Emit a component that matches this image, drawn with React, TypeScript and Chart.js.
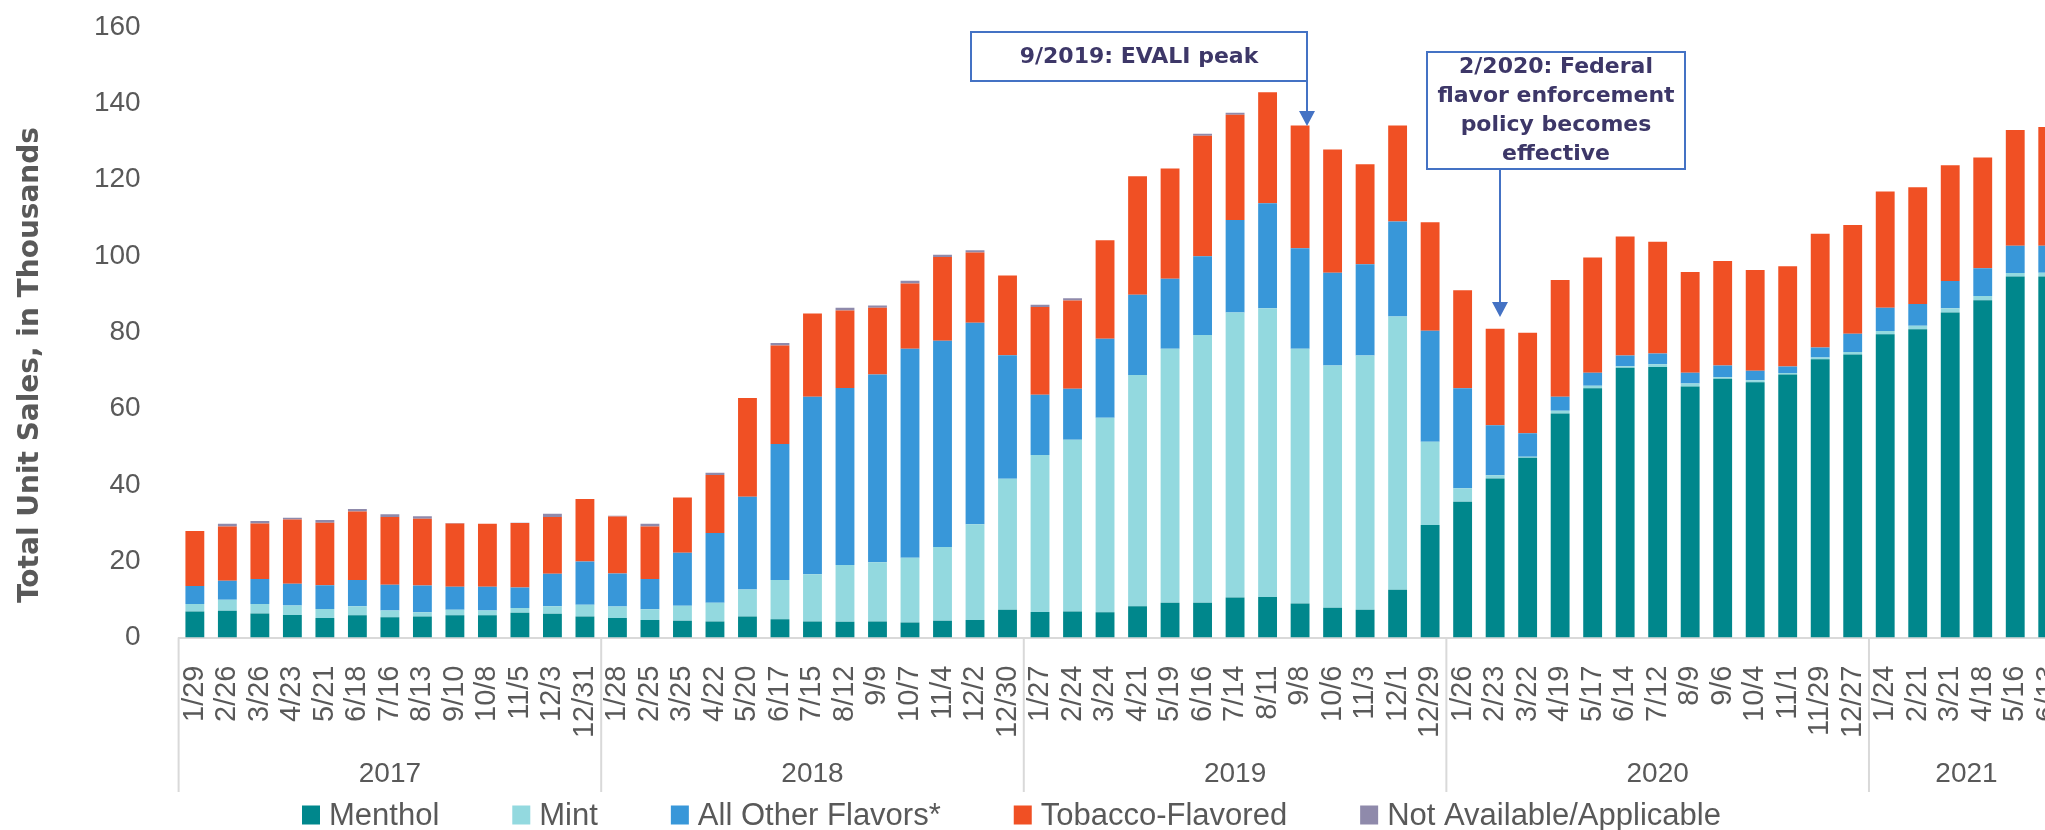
import React, { useEffect, useRef } from 'react';
import { Chart, registerables } from 'chart.js';

Chart.register(...registerables);

// ---------------- DATA ----------------
const categories = [
  '1/29', '2/26', '3/26', '4/23', '5/21', '6/18', '7/16', '8/13', '9/10', '10/8', '11/5', '12/3', '12/31',
  '1/28', '2/25', '3/25', '4/22', '5/20', '6/17', '7/15', '8/12', '9/9', '10/7', '11/4', '12/2', '12/30',
  '1/27', '2/24', '3/24', '4/21', '5/19', '6/16', '7/14', '8/11', '9/8', '10/6', '11/3', '12/1', '12/29',
  '1/26', '2/23', '3/22', '4/19', '5/17', '6/14', '7/12', '8/9', '9/6', '10/4', '11/1', '11/29', '12/27',
  '1/24', '2/21', '3/21', '4/18', '5/16', '6/13',
];

const years = ['2017', '2018', '2019', '2020', '2021'];
const yearCounts = [13, 13, 13, 13, 6];

const menthol = [
  6.8, 7.0, 6.3, 5.9, 5.1, 5.8, 5.3, 5.5, 5.8, 5.8, 6.5, 6.2, 5.5,
  5.1, 4.6, 4.4, 4.2, 5.5, 4.8, 4.2, 4.1, 4.2, 3.9, 4.4, 4.6, 7.3,
  6.7, 6.8, 6.6, 8.2, 9.1, 9.1, 10.5, 10.6, 8.9, 7.8, 7.3, 12.5, 29.5,
  35.6, 41.7, 47.1, 58.7, 65.3, 70.7, 70.9, 65.8, 67.8, 66.9, 68.9, 72.9, 74.2,
  79.5, 80.8, 85.2, 88.4, 94.6, 94.6,
];

const mint = [
  2.0, 2.9, 2.5, 2.5, 2.4, 2.4, 1.8, 1.1, 1.5, 1.3, 1.2, 2.0, 3.1,
  3.0, 2.8, 3.9, 4.9, 7.1, 10.3, 12.4, 14.9, 15.5, 17.0, 19.3, 25.1, 34.3,
  41.1, 45.0, 51.0, 60.6, 66.6, 70.2, 74.7, 75.7, 66.8, 63.5, 66.6, 71.6, 21.8,
  3.5, 0.8, 0.3, 0.7, 0.7, 0.4, 0.7, 0.8, 0.4, 0.5, 0.4, 0.5, 0.6,
  0.8, 0.9, 1.1, 1.1, 0.9, 1.0,
];

const otherFlavors = [
  4.7, 5.0, 6.5, 5.7, 6.2, 6.9, 6.7, 7.0, 6.0, 6.2, 5.4, 8.5, 11.3,
  8.7, 7.9, 13.9, 18.3, 24.3, 35.6, 46.5, 46.4, 49.2, 54.8, 54.1, 52.8, 32.4,
  15.8, 13.4, 20.7, 21.0, 18.3, 20.6, 24.2, 27.5, 26.3, 24.3, 23.9, 24.9, 29.1,
  26.2, 13.1, 6.1, 3.7, 3.4, 2.8, 2.8, 2.8, 3.1, 2.5, 1.7, 2.6, 4.8,
  6.1, 5.7, 7.1, 7.3, 7.2, 7.1,
];

const tobacco = [
  14.4, 14.2, 14.6, 16.8, 16.4, 17.9, 17.8, 17.5, 16.6, 16.5, 16.9, 14.9, 16.4,
  14.9, 13.8, 14.5, 15.2, 25.9, 25.8, 21.8, 20.3, 17.5, 17.1, 21.9, 18.4, 20.9,
  23.0, 23.1, 25.8, 31.1, 28.9, 31.6, 27.6, 29.1, 32.2, 32.3, 26.2, 25.2, 28.4,
  25.7, 25.3, 26.4, 30.6, 30.2, 31.2, 29.3, 26.4, 27.4, 26.4, 26.3, 29.8, 28.5,
  30.5, 30.6, 30.4, 29.0, 30.3, 31.1,
];

const notAvailable = [
  0, 0.7, 0.6, 0.5, 0.7, 0.7, 0.7, 0.7, 0.1, 0, 0.1, 0.8, 0,
  0.2, 0.7, 0, 0.6, 0, 0.7, 0, 0.7, 0.6, 0.7, 0.6, 0.6, 0,
  0.6, 0.6, 0, 0, 0, 0.5, 0.5, 0, 0, 0, 0, 0, 0,
  0, 0, 0, 0, 0, 0, 0, 0, 0, 0, 0, 0, 0,
  0, 0, 0, 0, 0, 0,
];

const yMin = 0;
const yMax = 160;
const yStep = 20;

const yTitle = 'Total Unit Sales, in Thousands';
const note1 = ['9/2019: EVALI peak'];
const note2 = ['2/2020: Federal', 'flavor enforcement', 'policy becomes', 'effective'];

// ---------------- STYLE ----------------
const FONT = "'Liberation Sans', Arial, sans-serif";
const BOLD_FONT = "'DejaVu Sans', Verdana, sans-serif";
const TEXT = '#595959';
const NOTE_TEXT = '#3D3768';
const NOTE_LINE = '#4472C4';
const AXIS = '#D9D9D9';

const seriesDefs = [
  { label: 'Menthol', data: menthol, color: '#00878C' },
  { label: 'Mint', data: mint, color: '#93D9DF' },
  { label: 'All Other Flavors*', data: otherFlavors, color: '#3897D9' },
  { label: 'Tobacco-Flavored', data: tobacco, color: '#F05024' },
  { label: 'Not Available/Applicable', data: notAvailable, color: '#8F8AAB' },
];

const overlayPlugin = {
  id: 'overlay',
  afterDraw(chart: any) {
    const { ctx, chartArea } = chart;
    const xs = chart.scales.x;
    const step = xs.getPixelForValue(1) - xs.getPixelForValue(0);
    ctx.save();

    // year group separators and labels
    const bounds = [0];
    let acc = 0;
    yearCounts.forEach((c) => { acc += c; bounds.push(acc); });
    ctx.strokeStyle = AXIS;
    ctx.lineWidth = 2;
    bounds.forEach((b) => {
      const px = xs.getPixelForValue(b) - step / 2;
      ctx.beginPath();
      ctx.moveTo(px, chartArea.bottom);
      ctx.lineTo(px, 792);
      ctx.stroke();
    });
    ctx.fillStyle = TEXT;
    ctx.font = `28px ${FONT}`;
    ctx.textAlign = 'center';
    ctx.textBaseline = 'middle';
    years.forEach((yr, i) => {
      const a = xs.getPixelForValue(bounds[i]) - step / 2;
      const b = xs.getPixelForValue(bounds[i + 1]) - step / 2;
      ctx.fillText(yr, (a + b) / 2, 774);
    });

    // y axis title
    ctx.save();
    ctx.translate(31, 365);
    ctx.rotate(-Math.PI / 2);
    ctx.font = `bold 28px ${BOLD_FONT}`;
    ctx.fillStyle = TEXT;
    ctx.textAlign = 'center';
    ctx.textBaseline = 'middle';
    ctx.fillText(yTitle, 0, 0);
    ctx.restore();

    // legend
    ctx.font = `31px ${FONT}`;
    ctx.textAlign = 'left';
    ctx.textBaseline = 'middle';
    let lx = 302;
    const ly = 815;
    chart.data.datasets.forEach((ds: any) => {
      ctx.fillStyle = ds.backgroundColor;
      ctx.fillRect(lx, ly - 9.5, 18, 19);
      ctx.fillStyle = TEXT;
      ctx.fillText(ds.label, lx + 27, ly + 1);
      lx += 27 + ctx.measureText(ds.label).width + 73;
    });

    // annotations
    const drawBox = (x0: number, y0: number, x1: number, y1: number) => {
      ctx.fillStyle = '#FFFFFF';
      ctx.fillRect(x0, y0, x1 - x0, y1 - y0);
      ctx.strokeStyle = NOTE_LINE;
      ctx.lineWidth = 2;
      ctx.strokeRect(x0, y0, x1 - x0, y1 - y0);
    };
    const drawArrow = (x: number, y0: number, yTip: number) => {
      ctx.strokeStyle = NOTE_LINE;
      ctx.lineWidth = 2;
      ctx.beginPath();
      ctx.moveTo(x, y0);
      ctx.lineTo(x, yTip - 14);
      ctx.stroke();
      ctx.fillStyle = NOTE_LINE;
      ctx.beginPath();
      ctx.moveTo(x - 8, yTip - 15);
      ctx.lineTo(x + 8, yTip - 15);
      ctx.lineTo(x, yTip);
      ctx.closePath();
      ctx.fill();
    };

    drawBox(971, 32, 1307, 81);
    drawArrow(1307, 81, 126);
    ctx.fillStyle = NOTE_TEXT;
    ctx.font = `bold 22px ${BOLD_FONT}`;
    ctx.textAlign = 'center';
    ctx.textBaseline = 'middle';
    note1.forEach((t, i) => ctx.fillText(t, 1139, 57 + i * 29));

    drawBox(1427, 52, 1685, 169);
    drawArrow(1500, 169, 317);
    ctx.fillStyle = NOTE_TEXT;
    ctx.font = `bold 22px ${BOLD_FONT}`;
    note2.forEach((t, i) => ctx.fillText(t, 1556, 67 + i * 29));

    ctx.restore();
  },
};

export default function App() {
  const ref = useRef<HTMLCanvasElement>(null);

  useEffect(() => {
    if (!ref.current) return;
    const chart = new Chart(ref.current, {
      type: 'bar',
      data: {
        labels: categories,
        datasets: seriesDefs.map((s) => ({
          label: s.label,
          data: s.data,
          backgroundColor: s.color,
          borderWidth: 0,
          barPercentage: 0.58,
          categoryPercentage: 1,
        })),
      },
      options: {
        responsive: false,
        devicePixelRatio: 1,
        animation: false,
        layout: { padding: { left: 0, right: 20, top: 27, bottom: 0 } },
        plugins: {
          legend: { display: false },
          tooltip: { enabled: false },
        },
        scales: {
          x: {
            stacked: true,
            offset: true,
            grid: { display: false },
            border: { display: true, color: AXIS, width: 2 },
            ticks: {
              autoSkip: false,
              minRotation: 90,
              maxRotation: 90,
              padding: 20,
              color: TEXT,
              font: { family: FONT, size: 29 },
            },
            afterFit: (s: any) => {
              s.height = 192.5;
              s.paddingLeft = 0;
              s.paddingRight = 0;
            },
          },
          y: {
            stacked: true,
            min: yMin,
            max: yMax,
            grid: { display: false },
            border: { display: false },
            ticks: {
              stepSize: yStep,
              padding: 30,
              color: TEXT,
              font: { family: FONT, size: 28 },
            },
            afterFit: (s: any) => {
              s.width = 178.6;
              s.paddingTop = 0;
              s.paddingBottom = 0;
            },
          },
        },
      },
      plugins: [overlayPlugin],
    } as any);
    return () => chart.destroy();
  }, []);

  return (
    <div style={{ position: 'absolute', left: 0, top: 0, width: 2045, height: 830, overflow: 'hidden', background: '#FFFFFF' }}>
      <canvas ref={ref} width={2084} height={830} style={{ display: 'block', width: 2084, height: 830 }} />
    </div>
  );
}
